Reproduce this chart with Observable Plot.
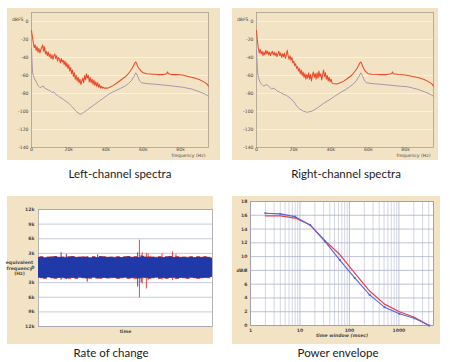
<!DOCTYPE html>
<html><head><meta charset="utf-8">
<script src="https://cdn.jsdelivr.net/npm/d3@7"></script>
<script src="https://cdn.jsdelivr.net/npm/@observablehq/plot@0.6"></script>
<style>
body{margin:0;background:#fff;}
#root{position:relative;width:450px;height:362px;overflow:hidden;font-family:Lato,sans-serif;}
.panel{position:absolute;background:#f3e3c5;}
.panel svg{position:absolute;left:0;top:0;}
.cap{position:absolute;font-size:11.5px;color:#1a1a1a;transform:translateX(-50%);white-space:nowrap;line-height:1;}
</style></head><body><div id="root"></div>
<script>
// ---------- Spectra (frequency in kHz, level in dBFS) ----------
const specStep = 0.5; // kHz spacing of the noisy low-frequency samples
const leftRedNoise = [-10,-17,-24,-29,-26,-32,-28,-34,-30,-35,-31,-29,-26,-33,-28,-36,-33,-38,-34,-39,-36,-41,-37,-42,-38,-36,-41,-38,-44,-40,-42,-46,-41,-45,-43,-48,-44,-50,-46,-52,-48,-55,-51,-58,-54,-61,-57,-64,-60,-66,-62,-68,-64,-70,-66,-63,-68,-60,-65,-58,-63,-60,-67,-62,-68,-64,-70,-65,-71,-67,-72,-68,-73,-70,-74,-72,-74,-73,-74,-74,-74];
const leftRedTailF = [41,42,44,46,48,50,52,53,54,55,55.5,56,56.5,57,58,59,60,62,65,68,71,72.5,73,73.5,75,78,81,84,87,90,92,94,95];
const leftRedTailDb = [-74,-73,-71,-68,-65,-62,-58,-55,-52,-48,-46,-45,-47,-50,-53,-55.5,-57,-58,-58.5,-59,-59,-58,-56,-58,-59,-59,-59.5,-61,-62.5,-64.5,-66.5,-69,-72];
const leftGrayF = [0,0.3,0.6,1,1.5,2,2.8,3.5,4.6,5.5,6.4,7,8,9,10,11,12,13,14,15,16,17,18,19,20,21,22,23,24,25,26,27,28,30,32,34,36,38,40,42,45,48,50,52,53.5,55,56,57,58,59,62,68,75,81,86,90,93,95];
const leftGrayDb = [-30,-45,-57,-60,-63,-65,-68,-71,-73.5,-72.5,-71.7,-74,-75,-76,-77,-79,-78,-81,-82,-84,-85,-86.5,-88,-89.5,-91,-93,-95,-97.5,-100,-101.5,-103,-102.5,-101,-98,-95,-92,-89,-86,-83,-80,-77,-74,-72,-69,-66,-61,-57,-61,-66,-68,-69,-70,-71.5,-73,-75,-78,-80.5,-83];

const rightRedNoise = [-10,-22,-30,-35,-31,-36,-33,-38,-34,-37,-32,-36,-33,-37,-34,-38,-35,-33,-37,-34,-38,-35,-39,-36,-33,-38,-35,-40,-36,-39,-35,-41,-37,-32,-38,-42,-38,-43,-40,-46,-44,-49,-47,-52,-50,-55,-52,-58,-54,-60,-56,-62,-58,-64,-59,-63,-57,-64,-59,-66,-60,-56,-62,-58,-64,-57,-63,-55,-61,-58,-65,-59,-54,-61,-57,-64,-60,-66,-62,-67,-64,-68,-69];
const rightRedTailF = [43,45,47,49,51,53,54,55,55.5,56,56.5,57,58,59,60,62,66,70,72.5,73,73.5,76,80,84,87,90,92,94,95];
const rightRedTailDb = [-69.5,-68,-66,-63,-60,-55,-52,-48,-46,-45,-47,-50,-54,-56.5,-58,-58.5,-59,-59,-58,-56,-58,-59,-59.5,-61,-62.5,-64.5,-66.5,-69,-72];
const rightGrayF = [0,0.3,0.6,1,2,3,3.8,5.6,7,8.2,9.5,10.9,12,13,14.5,16,18,20,21.6,23,25.2,27,28,29.7,32,34,36,39.5,42,45,48,50,52,53.5,55,56,57,58,59,62,68,75,81,86,90,93,95];
const rightGrayDb = [-32,-45,-57,-62,-68,-70,-71.7,-70,-73,-75,-74,-77,-78,-79,-81,-82,-85,-89,-94,-97,-99.7,-100.8,-100.5,-99.7,-97,-94,-91,-86.6,-83,-79,-75.5,-72.5,-69.5,-66,-61,-57,-61,-66,-68,-69,-70,-71.5,-72.5,-75,-78,-80.5,-83];

const specYTicks = [0,-20,-40,-60,-80,-100,-120,-140];
const specXTicks = [0,20,40,60,80];

// ---------- Rate of change (equivalent frequency, k = kHz) ----------
const rateStep = 2; // time spacing of envelope samples
const blueHi = [2.1,2.2,2.0,2.2,2.1,2.3,2.1,2.2,2.0,2.2,2.3,2.1,2.2,2.1,2.2,2.0,2.2,2.1,2.3,2.2,2.1,2.2,2.0,2.2,2.1,2.2,2.3,2.1,2.2,2.1,2.3,2.2,2.1,2.2,2.0,2.2,2.1,2.2,2.3,2.1,2.2,2.1,2.2,2.0,2.2,2.1,2.2,2.1,2.2,2.1,2.0];
const blueLo = [-2.0,-2.1,-2.2,-2.0,-2.1,-2.2,-2.1,-2.0,-2.2,-2.1,-2.1,-2.2,-2.0,-2.1,-2.2,-2.1,-2.0,-2.2,-2.1,-2.1,-2.2,-2.0,-2.1,-2.2,-2.1,-2.0,-2.2,-2.1,-2.1,-2.2,-2.0,-2.1,-2.2,-2.1,-2.0,-2.2,-2.1,-2.2,-2.1,-2.0,-2.2,-2.1,-2.1,-2.2,-2.0,-2.1,-2.2,-2.1,-2.1,-2.0,-1.9];
const redHi = [2.2,2.3,2.1,2.2,2.3,2.3,2.2,2.2,2.2,2.3,2.3,2.2,2.2,2.3,2.2,2.1,2.3,2.1,2.3,2.3,2.2,2.2,2.2,2.3,2.1,2.3,2.3,2.2,2.3,2.1,2.4,2.2,2.3,2.2,2.2,2.3,2.1,2.3,2.3,2.2,2.3,2.2,2.2,2.2,2.3,2.1,2.3,2.2,2.3,2.2,2.0];
const redLo = [-2.1,-2.2,-2.3,-2.0,-2.2,-2.3,-2.1,-2.2,-2.2,-2.3,-2.1,-2.3,-2.1,-2.2,-2.2,-2.3,-2.1,-2.2,-2.3,-2.1,-2.2,-2.2,-2.1,-2.3,-2.2,-2.1,-2.3,-2.2,-2.3,-2.2,-2.2,-2.1,-2.3,-2.2,-2.1,-2.3,-2.2,-2.3,-2.1,-2.2,-2.3,-2.1,-2.2,-2.3,-2.1,-2.2,-2.3,-2.2,-2.1,-2.2,-1.9];
const redSpikeT = [58,59.6,62,63,71,77,79];
const redSpikeHi = [5.7,3.1,3.0,2.9,2.9,3.3,2.8];
const redSpikeLo = [-6.1,-3.3,-4.3,-2.6,-2.5,-2.6,-2.4];
const blueSpikeT = [13,16,28,34,57,59];
const blueSpikeHi = [3.1,2.8,2.3,2.7,3.1,2.6];
const blueSpikeLo = [-2.5,-2.4,-2.9,-2.3,-3.9,-3.0];
const rateTicks = [-12,-9,-6,-3,0,3,6,9,12];

// ---------- Power envelope ----------
const envTime = [2,4,8,16,32,64,128,256,512,1024,2048,4096];
const envRed = [15.9,15.9,15.6,14.6,12.3,10.3,7.6,5.0,3.1,2.0,1.2,0];
const envBlue = [16.3,16.2,15.8,14.6,12.2,9.5,6.9,4.45,2.66,1.7,1.06,0];
const envXTicks = [1,10,100,1000,5000];
const envXGrid = [2,3,4,5,6,7,8,9,20,30,40,50,60,70,80,90,200,300,400,500,600,700,800,900,2000,3000,4000];
const envYTicks = [0,2,4,6,8,10,12,14,16,18];

// ---------- colours ----------
const C = {spRed:"#ea4a2a", spGray:"#9d8fa9", frame:"#a89e8e", rRed:"#e3342f", rBlue:"#1f3aa8",
           eRed:"#e8404c", eBlue:"#5767d8", grid:"#c2c5da", tick:"#4a4a4a"};

const root = document.getElementById("root");
function panel(x, y, w, h, svg) {
  const d = document.createElement("div");
  d.className = "panel";
  Object.assign(d.style, {left: x+"px", top: y+"px", width: w+"px", height: h+"px"});
  d.appendChild(svg);
  root.appendChild(d);
}
function caption(text, cx, top) {
  const d = document.createElement("div");
  d.className = "cap"; d.textContent = text;
  d.style.left = cx + "px"; d.style.top = top + "px";
  root.appendChild(d);
}
const tinyStyle = {background:"transparent", fontSize:"4.6px", fontFamily:"'DejaVu Sans', sans-serif", color:C.tick, overflow:"visible"};

function spectrum(noise, tailF, tailDb, grayF, grayDb, w, h, mr) {
  const red = noise.map((db, i) => ({f: i * specStep, db}))
    .concat(tailF.map((f, i) => ({f, db: tailDb[i]})));
  const gray = grayF.map((f, i) => ({f, db: grayDb[i]}));
  return Plot.plot({
    width: w, height: h, marginLeft: 24, marginRight: mr, marginTop: 4, marginBottom: 13,
    style: tinyStyle,
    x: {domain: [0, 95], axis: null},
    y: {domain: [-140, 10], axis: null},
    marks: [
      Plot.gridY(specYTicks, {stroke: "#fbf2df", strokeOpacity: 0.9}),
      Plot.frame({stroke: C.frame, strokeWidth: 0.8}),
      Plot.axisX(specXTicks, {tickSize: 0, tickPadding: 0, label: null, tickFormat: d => d === 0 ? "0" : d + "k"}),
      Plot.axisY(specYTicks, {tickSize: 0, tickPadding: 3, label: null, tickFormat: d => String(d)}),
      Plot.line(gray, {x: "f", y: "db", stroke: C.spGray, strokeWidth: 0.9}),
      Plot.line(red, {x: "f", y: "db", stroke: C.spRed, strokeWidth: 1.05}),
      Plot.text(["dBFS"], {frameAnchor: "top-left", dx: -8, dy: 5, textAnchor: "end"}),
      Plot.text(["frequency (Hz)"], {frameAnchor: "bottom-right", dx: -3, dy: 9.5, textAnchor: "end"})
    ]
  });
}

panel(7, 8, 213, 152, spectrum(leftRedNoise, leftRedTailF, leftRedTailDb, leftGrayF, leftGrayDb, 213, 152, 12));
panel(232, 8, 206, 152, spectrum(rightRedNoise, rightRedTailF, rightRedTailDb, rightGrayF, rightGrayDb, 206, 152, 5));

// Rate of change
const band = blueHi.map((v, i) => ({t: i * rateStep, bhi: v, blo: blueLo[i], rhi: redHi[i], rlo: redLo[i]}));
const redSpikes = redSpikeT.map((t, i) => ({t, hi: redSpikeHi[i], lo: redSpikeLo[i]}));
const blueSpikes = blueSpikeT.map((t, i) => ({t, hi: blueSpikeHi[i], lo: blueSpikeLo[i]}));
const ratePlot = Plot.plot({
  width: 206, height: 148, marginLeft: 31, marginRight: 1, marginTop: 13, marginBottom: 18,
  style: tinyStyle,
  x: {domain: [0, 100], axis: null},
  y: {domain: [-12, 12], axis: null},
  marks: [
    Plot.frame({fill: "white"}),
    Plot.gridY(rateTicks, {stroke: "#b9bcd0", strokeOpacity: 1, strokeWidth: 0.8}),
    Plot.frame({stroke: "#a4a4b0", strokeWidth: 0.8}),
    Plot.axisY(rateTicks, {tickSize: 0, tickPadding: 4, label: null, fontWeight: "bold",
      tickFormat: d => d === 0 ? "0" : Math.abs(d) + "k"}),
    Plot.areaY(band, {x: "t", y1: "rlo", y2: "rhi", fill: C.rRed, curve: "step"}),
    Plot.ruleX(redSpikes, {x: "t", y1: "lo", y2: "hi", stroke: C.rRed, strokeWidth: 0.9}),
    Plot.ruleX(blueSpikes, {x: "t", y1: "lo", y2: "hi", stroke: C.rBlue, strokeWidth: 0.9}),
    Plot.areaY(band, {x: "t", y1: "blo", y2: "bhi", fill: C.rBlue, curve: "step"}),
    Plot.text(["equivalent\nfrequency\n(Hz)"], {frameAnchor: "left", dx: -19, textAnchor: "middle", lineHeight: 1.15, fontWeight: "bold"}),
    Plot.text(["time"], {frameAnchor: "bottom", dy: 6, fontWeight: "bold"})
  ]
});
panel(7, 196, 206, 148, ratePlot);

// Power envelope
const envR = envTime.map((t, i) => ({t, v: envRed[i]}));
const envB = envTime.map((t, i) => ({t, v: envBlue[i]}));
const envPlot = Plot.plot({
  width: 208, height: 148, marginLeft: 18, marginRight: 7, marginTop: 5, marginBottom: 19,
  style: tinyStyle,
  x: {type: "log", domain: [1, 5000], axis: null},
  y: {domain: [0, 18], axis: null},
  marks: [
    Plot.frame({fill: "white"}),
    Plot.gridX(envXGrid, {stroke: C.grid, strokeOpacity: 1, strokeWidth: 0.7}),
    Plot.gridX(envXTicks, {stroke: "#aeb2cc", strokeOpacity: 1, strokeWidth: 0.8}),
    Plot.gridY(envYTicks, {stroke: "#aeb2cc", strokeOpacity: 1, strokeWidth: 0.8}),
    Plot.frame({stroke: "#9a9aa8", strokeWidth: 0.8}),
    Plot.axisX(envXTicks, {tickSize: 0, tickPadding: 3, label: null, fontWeight: "bold", tickFormat: d => String(d)}),
    Plot.axisY(envYTicks, {tickSize: 0, tickPadding: 3, label: null, fontWeight: "bold", tickFormat: d => String(d)}),
    Plot.line(envR, {x: "t", y: "v", stroke: C.eRed, strokeWidth: 1.2}),
    Plot.line(envB, {x: "t", y: "v", stroke: C.eBlue, strokeWidth: 1.1}),
    Plot.dot(envB, {x: "t", y: "v", symbol: "square", r: 1.1, fill: C.eBlue}),
    Plot.text(["dBr"], {frameAnchor: "left", dx: -14, dy: 7, fontStyle: "italic", fontWeight: "bold"}),
    Plot.text(["time window (msec)"], {frameAnchor: "bottom", dy: 11, fontStyle: "italic", fontWeight: "bold"})
  ]
});
panel(232, 196, 208, 148, envPlot);

caption("Left-channel spectra", 120, 168);
caption("Right-channel spectra", 346, 168);
caption("Rate of change", 111, 347);
caption("Power envelope", 338, 347);
</script></body></html>
